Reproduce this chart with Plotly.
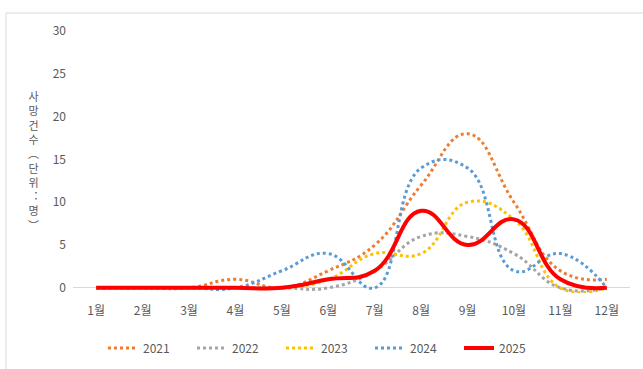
import plotly.graph_objects as go

months = ["1월", "2월", "3월", "4월", "5월", "6월", "7월", "8월", "9월", "10월", "11월", "12월"]
y2021 = [0, 0, 0, 1, 0, 2, 5, 12, 18, 10, 2, 1]
y2022 = [0, 0, 0, 0, 0, 0, 2, 6, 6, 4, 0, 0]
y2023 = [0, 0, 0, 0, 0, 1, 4, 4, 10, 8, 0, 0]
y2024 = [0, 0, 0, 0, 2, 4, 0, 14, 14, 2, 4, 0]
y2025 = [0, 0, 0, 0, 0, 1, 2, 9, 5, 8, 1, 0]
years = ["2021", "2022", "2023", "2024", "2025"]
colors = ["#ED7D31", "#A5A5A5", "#FFC000", "#5B9BD5", "#FF0000"]
ytitle = "사망건수︵단위︓명︶"

FONT = "Noto Sans CJK KR"
series = [y2021, y2022, y2023, y2024, y2025]

fig = go.Figure()
for name, vals, col in zip(years, series, colors):
    solid = name == "2025"
    fig.add_trace(go.Scatter(
        x=months, y=vals, name=name, mode="lines",
        line=dict(color=col, width=4 if solid else 3, dash="solid" if solid else "dot",
                  shape="spline", smoothing=1.3),
    ))

# plot area: left 73, right 630, top 31, bottom 293
L, R, T, B = 73, 630, 31, 293
W, H = 643, 369
pw, ph = R - L, B - T

def px(x):
    return (x - L) / pw

def py(y):
    return (B - y) / ph

# y-axis title, stacked characters (one text, one character per line)
fig.add_annotation(text="<br>".join(ytitle), x=px(33), y=py(160), xref="paper", yref="paper",
                   showarrow=False, xanchor="center", yanchor="middle",
                   font=dict(family=FONT, size=11, color="#595959"))

fig.add_shape(type="rect", xref="paper", yref="paper",
              x0=px(6), x1=px(660), y0=py(380), y1=py(13),
              line=dict(color="#D9D9D9", width=1), fillcolor="rgba(0,0,0,0)", layer="below")

fig.update_layout(
    width=W, height=H,
    margin=dict(l=L, r=W - R, t=T, b=H - B, pad=0, autoexpand=False),
    paper_bgcolor="white", plot_bgcolor="white",
    font=dict(family=FONT, size=12, color="#595959"),
    showlegend=True,
    legend=dict(orientation="h", x=px(103), xanchor="left", y=py(348), yanchor="middle",
                entrywidth=44, entrywidthmode="pixels", font=dict(size=12, color="#595959"),
                bgcolor="rgba(0,0,0,0)"),
    xaxis=dict(type="category", range=[-0.5, 11.5], showgrid=False, showline=False,
               zeroline=False, ticks="", ticklabelstandoff=9,
               tickfont=dict(family=FONT, size=12, color="#595959")),
    yaxis=dict(range=[-0.6, 30], tickvals=[0, 5, 10, 15, 20, 25, 30], showgrid=False,
               zeroline=True, zerolinecolor="#D9D9D9", zerolinewidth=1, showline=False,
               ticks="", ticklabelstandoff=6,
               tickfont=dict(family=FONT, size=12, color="#595959")),
)

fig.write_html("out.html")
